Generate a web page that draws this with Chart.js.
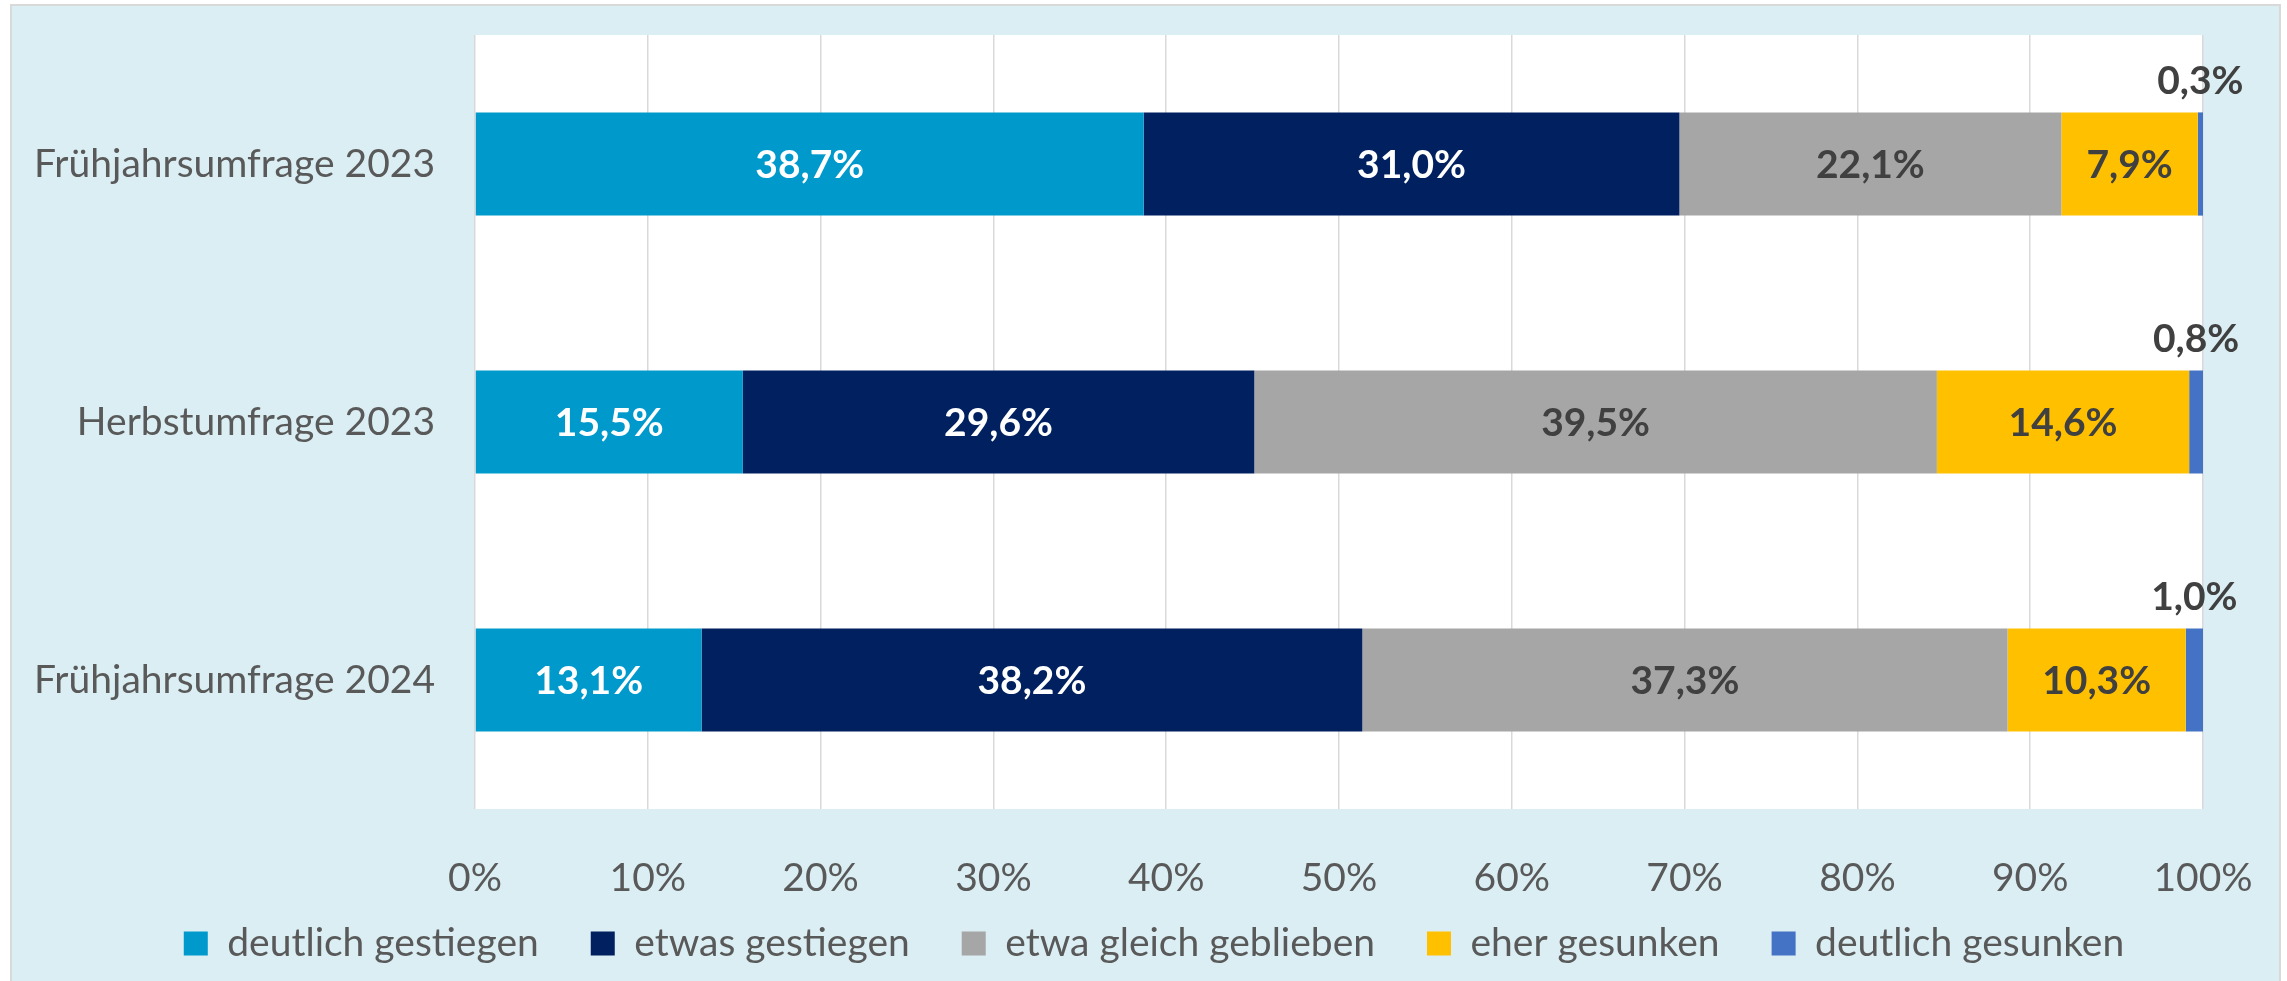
<!DOCTYPE html>
<html lang="de">
<head>
    <meta charset="UTF-8">
    <title>Umfrage – gestapeltes Balkendiagramm</title>
    <script src="https://cdn.jsdelivr.net/npm/chart.js"></script>
    <style>
        html, body { margin: 0; padding: 0; background: #ffffff; overflow: hidden; }
    </style>
</head>
<body>
    <canvas id="umfrageChart" width="2287" height="981"></canvas>
    <script>
        const categories = ['Frühjahrsumfrage 2023', 'Herbstumfrage 2023', 'Frühjahrsumfrage 2024'];
        const seriesNames = ['deutlich gestiegen', 'etwas gestiegen', 'etwa gleich geblieben', 'eher gesunken', 'deutlich gesunken'];
        const deutlichGestiegen = [38.7, 15.5, 13.1];
        const etwasGestiegen = [31.0, 29.6, 38.2];
        const etwaGleich = [22.1, 39.5, 37.3];
        const eherGesunken = [7.9, 14.6, 10.3];
        const deutlichGesunken = [0.3, 0.8, 1.0];
        const tickValues = [0, 10, 20, 30, 40, 50, 60, 70, 80, 90, 100];

        const seriesValues = [deutlichGestiegen, etwasGestiegen, etwaGleich, eherGesunken, deutlichGesunken];
        const colors = ['#0099CC', '#002060', '#A6A6A6', '#FFC000', '#4472C4'];
        const labelColors = ['#FFFFFF', '#FFFFFF', '#404040', '#404040', '#404040'];

        // 100%-Stapel wie in Excel: jede Zeile auf 100 skalieren
        const totals = categories.map((c, i) => seriesValues.reduce((s, arr) => s + arr[i], 0));

        const FONT = 'Lato';
        const FONT_SIZE = 39;

        const panelPlugin = {
            id: 'panelPlugin',
            afterLayout: (chart) => {
                // Legende unter die Achsenbeschriftung schieben und mittig setzen
                const lg = chart.legend;
                const dx = 1154 - (lg.left + lg.right) / 2;
                const dy = 872 - lg.top;
                lg.left += dx; lg.right += dx;
                lg.top += dy; lg.bottom += dy;
                // Achsenbeschriftung nicht abschneiden
                chart.scales.x.bottom = chart.scales.x.top + 110;
            },
            beforeDraw: (chart) => {
                const ctx = chart.ctx;
                const area = chart.chartArea;
                ctx.save();
                ctx.fillStyle = '#FFFFFF';
                ctx.fillRect(0, 0, chart.width, chart.height);
                ctx.fillStyle = '#DAEEF3';
                ctx.fillRect(11, 5, 2269, chart.height);
                ctx.strokeStyle = '#D9D9D9';
                ctx.lineWidth = 2;
                ctx.strokeRect(11, 5, 2269, chart.height + 5);
                ctx.fillStyle = '#FFFFFF';
                ctx.fillRect(area.left, area.top, area.right - area.left, area.bottom - area.top);
                ctx.restore();
            }
        };

        const labelPlugin = {
            id: 'labelPlugin',
            afterDatasetsDraw: (chart) => {
                const ctx = chart.ctx;
                ctx.save();
                ctx.font = 'bold ' + FONT_SIZE + 'px ' + FONT;
                ctx.textAlign = 'center';
                ctx.textBaseline = 'middle';
                chart.data.datasets.forEach((ds, di) => {
                    const meta = chart.getDatasetMeta(di);
                    meta.data.forEach((bar, i) => {
                        const text = ds.raw[i].toFixed(1).replace('.', ',') + '%';
                        const cx = (bar.x + bar.base) / 2;
                        ctx.fillStyle = labelColors[di];
                        if (di === seriesValues.length - 1) {
                            ctx.fillText(text, cx, bar.y - bar.height / 2 - 31);
                        } else {
                            ctx.fillText(text, cx, bar.y + 1);
                        }
                    });
                });
                ctx.restore();
            }
        };

        const ctx = document.getElementById('umfrageChart').getContext('2d');
        new Chart(ctx, {
            type: 'bar',
            data: {
                labels: categories,
                datasets: seriesNames.map((name, di) => ({
                    label: name,
                    raw: seriesValues[di],
                    data: seriesValues[di].map((v, i) => v / totals[i] * 100),
                    backgroundColor: colors[di],
                    borderWidth: 0,
                    categoryPercentage: 1.0,
                    barPercentage: 0.4
                }))
            },
            options: {
                indexAxis: 'y',
                animation: false,
                responsive: false,
                layout: { padding: { top: 35, right: 84, bottom: 0, left: 20 } },
                scales: {
                    x: {
                        stacked: true,
                        min: 0,
                        max: 100,
                        afterBuildTicks: (scale) => { scale.ticks = tickValues.map(v => ({ value: v })); },
                        afterFit: (scale) => {
                            scale.height = 981 - 809 - 101;
                            scale.paddingLeft = 0;
                            scale.paddingRight = 0;
                        },
                        grid: { color: '#D9D9D9', lineWidth: 1.5, drawTicks: false },
                        border: { display: false },
                        ticks: {
                            padding: 46,
                            color: '#595959',
                            font: { family: FONT, size: FONT_SIZE },
                            callback: (value) => value + '%'
                        }
                    },
                    y: {
                        stacked: true,
                        afterFit: (scale) => {
                            scale.width = 455;
                            scale.paddingTop = 0;
                            scale.paddingBottom = 0;
                        },
                        grid: { display: false, drawTicks: false },
                        border: { display: false },
                        ticks: {
                            padding: 40,
                            color: '#595959',
                            font: { family: FONT, size: FONT_SIZE }
                        }
                    }
                },
                plugins: {
                    legend: {
                        position: 'bottom',
                        labels: {
                            boxWidth: 24,
                            boxHeight: 24,
                            padding: 52,
                            color: '#595959',
                            font: { family: FONT, size: FONT_SIZE }
                        }
                    },
                    tooltip: { enabled: false }
                }
            },
            plugins: [panelPlugin, labelPlugin]
        });
    </script>
</body>
</html>
